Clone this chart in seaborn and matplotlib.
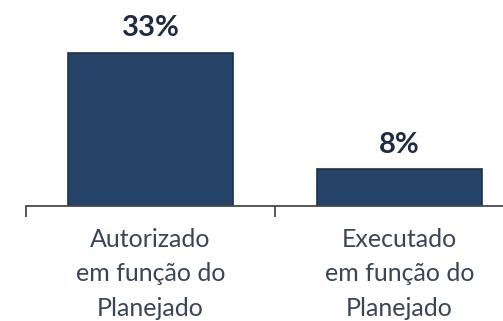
import matplotlib
matplotlib.use("Agg")
import matplotlib.pyplot as plt
import seaborn as sns
import pandas as pd
import numpy as np

categories = ["Autorizado\nem função do\nPlanejado", "Executado\nem função do\nPlanejado"]
values = [33, 8]
value_labels = ["33%", "8%"]

sns.set_theme(style="white")
plt.rcParams["font.family"] = ["Lato", "DejaVu Sans"]

df = pd.DataFrame({"categoria": categories, "valor": values})

fig = plt.figure(figsize=(5.03, 3.21), dpi=100)
# axes spans two category slots of equal width; the right slot runs past the figure edge
W, H = 503, 321
left_px, right_px, bottom_px = 26, 524, 206
top_px = 0
ax = fig.add_axes([left_px / W, 1 - bottom_px / H,
                   (right_px - left_px) / W, (bottom_px - top_px) / H])

sns.barplot(data=df, x="categoria", y="valor", ax=ax, color="#264468",
            width=0.66, edgecolor="#1b3150", linewidth=1.2, saturation=1)

ax.set_xlim(-0.5, 1.5)
ax.set_ylim(0, 44.3)

for i, (v, lab) in enumerate(zip(values, value_labels)):
    ax.annotate(lab, (i, v), xytext=(0, 8), textcoords="offset points",
                ha="center", va="bottom", fontsize=21, fontweight="bold",
                color="#1f2b42")

ax.set_xlabel("")
ax.set_ylabel("")
ax.set_yticks([])
for s in ["top", "right", "left"]:
    ax.spines[s].set_visible(False)
ax.spines["bottom"].set_color("#4a4a4a")
ax.spines["bottom"].set_linewidth(1.3)

ax.set_xticks([0, 1])
ax.set_xticklabels(categories, fontsize=18, color="#3a4556", linespacing=1.62)
ax.set_xticks([-0.5, 0.5, 1.5], minor=True)
ax.tick_params(axis="x", which="major", length=0, pad=15.5)
ax.tick_params(axis="x", which="minor", length=8, width=1.3, color="#4a4a4a",
               direction="out", bottom=True)

fig.savefig("out.png", dpi=100)
